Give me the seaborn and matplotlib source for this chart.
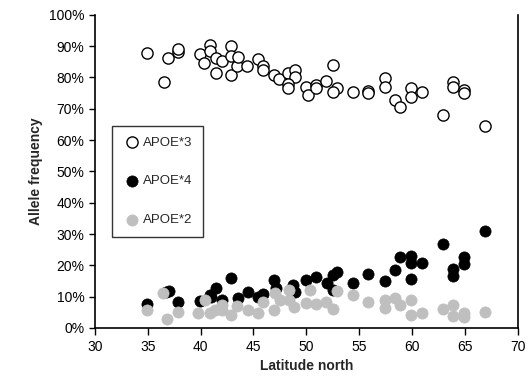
import matplotlib
matplotlib.use("Agg")
import matplotlib.pyplot as plt
import seaborn as sns
import pandas as pd
from matplotlib.ticker import PercentFormatter

# values (latitude, allele frequency in %)
lat_e3 = [34.9, 36.5, 36.9, 37.9, 37.9, 39.9, 40.3, 40.9, 40.9, 41.5, 41.5, 42.0, 42.9,
          42.9, 42.9, 43.4, 43.5, 44.4, 45.4, 45.9, 45.9, 46.9, 47.4, 48.3, 48.9, 48.9,
          48.3, 48.3, 50.0, 50.2, 50.9, 50.9, 51.9, 52.5, 52.9, 52.5, 54.4, 55.8, 55.8,
          57.4, 57.4, 58.4, 58.9, 59.9, 59.9, 60.9, 62.9, 63.9, 63.9, 64.9, 64.9, 66.9]
frq_e3 = [87.8, 78.5, 86.2, 88.1, 89.0, 87.4, 84.6, 90.4, 88.3, 86.2, 81.4, 85.3, 89.9,
          86.7, 80.8, 83.5, 86.4, 83.5, 85.8, 83.5, 82.4, 80.8, 79.5, 81.4, 82.4, 80.1,
          78.0, 76.6, 77.1, 74.4, 77.6, 76.6, 78.8, 84.0, 76.6, 75.2, 75.5, 75.7, 75.0,
          79.8, 77.1, 72.8, 70.7, 76.6, 73.9, 75.5, 68.1, 78.7, 76.9, 76.0, 75.0, 64.5]

lat_e4 = [34.9, 36.7, 37.0, 37.9, 39.9, 40.9, 41.0, 41.5, 42.0, 42.9, 43.5, 44.5, 45.4,
          45.9, 46.9, 47.1, 48.7, 48.9, 50.0, 50.9, 52.0, 52.5, 52.9, 52.5, 54.4, 55.8,
          57.4, 58.4, 58.9, 59.9, 59.9, 60.9, 59.9, 62.9, 63.9, 63.9, 64.9, 64.9, 66.9]
frq_e4 = [7.8, 11.5, 11.8, 8.4, 8.6, 10.6, 10.0, 12.7, 8.9, 15.9, 9.5, 11.6, 10.0,
          10.9, 15.3, 12.9, 13.7, 11.6, 15.3, 16.4, 14.3, 16.9, 18.0, 12.1, 14.4, 17.3,
          15.0, 18.4, 22.8, 22.9, 20.7, 20.7, 15.6, 26.8, 18.9, 16.6, 22.6, 20.3, 31.0]

lat_e2 = [34.9, 36.4, 36.8, 37.9, 39.8, 40.4, 40.9, 41.4, 42.0, 42.0, 42.9, 43.4, 44.5,
          45.4, 45.9, 46.9, 47.0, 47.5, 48.4, 48.4, 48.8, 50.0, 50.3, 50.9, 51.9, 52.5,
          52.9, 54.4, 55.8, 57.4, 57.4, 58.4, 58.9, 59.9, 59.9, 60.9, 62.9, 63.9, 63.9,
          64.9, 64.9, 66.9]
frq_e2 = [5.8, 11.1, 2.8, 5.2, 4.7, 8.9, 4.7, 5.9, 7.3, 5.8, 4.2, 6.9, 5.9,
          4.7, 8.4, 5.8, 11.1, 8.9, 12.1, 8.9, 6.8, 8.1, 12.1, 7.7, 8.4, 6.1,
          11.8, 10.5, 8.4, 8.9, 6.4, 9.5, 7.3, 8.9, 4.2, 4.7, 6.1, 7.2, 3.8,
          4.8, 3.5, 5.2]

df3 = pd.DataFrame({"lat": lat_e3, "freq": frq_e3})
df4 = pd.DataFrame({"lat": lat_e4, "freq": frq_e4})
df2 = pd.DataFrame({"lat": lat_e2, "freq": frq_e2})

sns.set_style("white")
plt.rcParams["font.family"] = ["Liberation Sans", "DejaVu Sans"]

fig = plt.figure(figsize=(5.3, 3.9), dpi=100)
ax = fig.add_axes([0.179, 0.159, 0.798, 0.803])

sns.scatterplot(data=df3, x="lat", y="freq", ax=ax, s=65, facecolor="white",
                edgecolor="black", linewidth=1.0, label="APOE*3", zorder=3)
sns.scatterplot(data=df4, x="lat", y="freq", ax=ax, s=65, color="black",
                edgecolor="black", linewidth=0.5, label="APOE*4", zorder=3)
sns.scatterplot(data=df2, x="lat", y="freq", ax=ax, s=65, color="#bfbfbf",
                edgecolor="#bfbfbf", linewidth=0.5, label="APOE*2", zorder=4)

ax.set_xlim(30, 70)
ax.set_ylim(0, 100)
ax.set_xticks(range(30, 71, 5))
ax.set_yticks(range(0, 101, 10))
ax.yaxis.set_major_formatter(PercentFormatter(decimals=0))
ax.tick_params(axis="both", labelsize=10, colors="black", direction="out",
               length=5, width=1, left=True, bottom=True)
ax.tick_params(axis="y", length=4)
for side in ["left", "bottom", "right"]:
    ax.spines[side].set_color("black")
    ax.spines[side].set_linewidth(1.2)
ax.spines["top"].set_visible(False)

ax.set_xlabel("Latitude north", fontsize=10, fontweight="bold")
ax.set_ylabel("Allele frequency", fontsize=10, fontweight="bold")

leg = ax.legend(loc="upper left", bbox_to_anchor=(0.04, 0.645), borderaxespad=0,
                frameon=True, fancybox=False, edgecolor="black", fontsize=9.5,
                labelspacing=2.0, borderpad=0.8, handletextpad=0.1,
                handlelength=1.5, markerscale=1.0)
leg.get_frame().set_linewidth(1.0)

fig.savefig("out.png", dpi=100)
